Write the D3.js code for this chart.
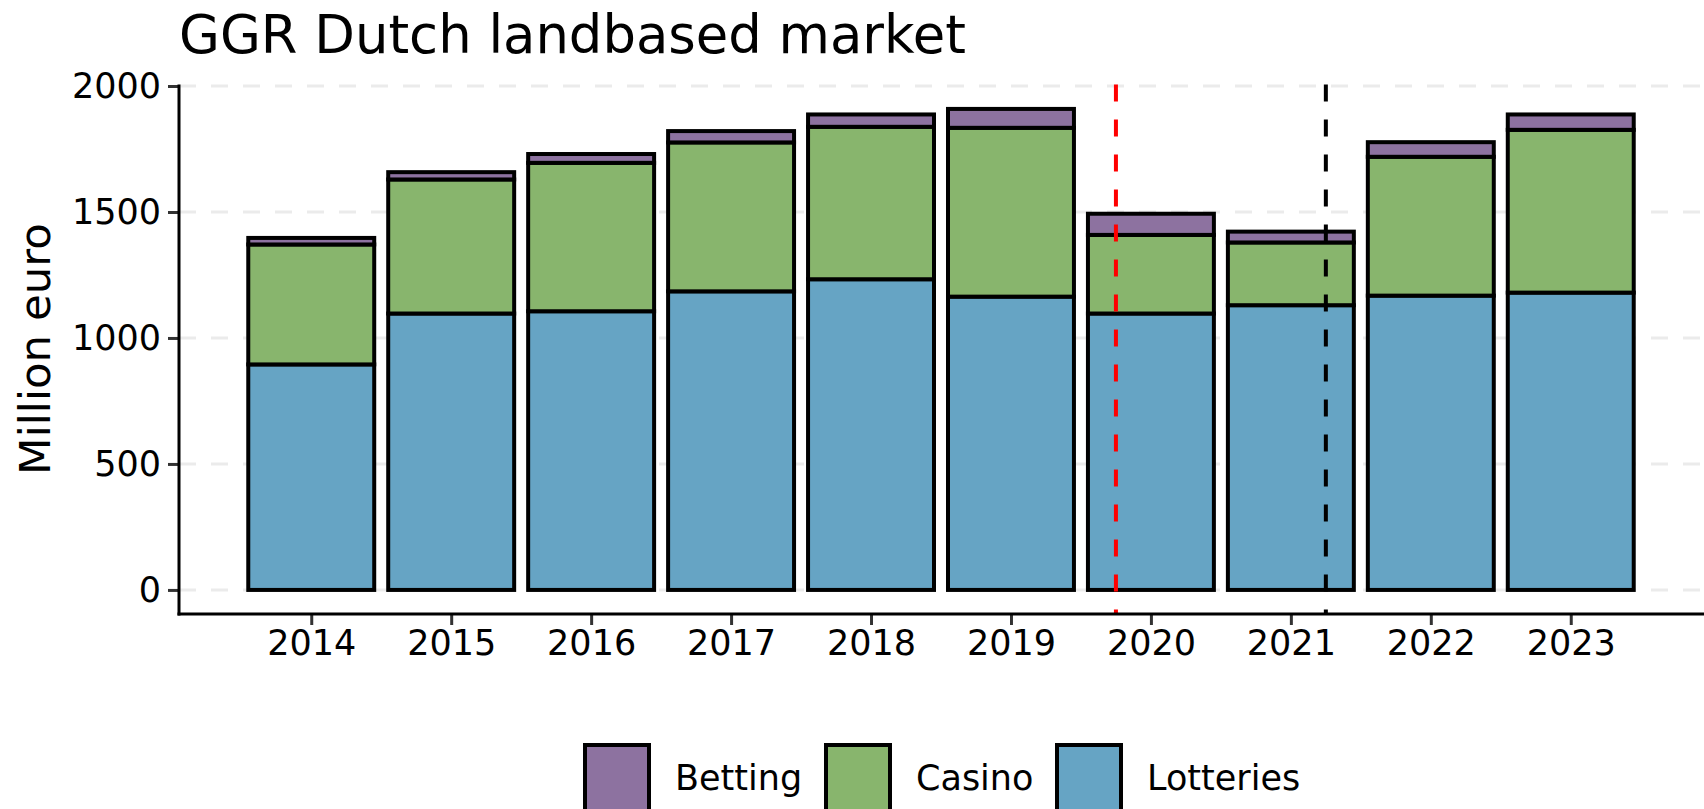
<!DOCTYPE html>
<html>
<head>
<meta charset="utf-8">
<script src="https://cdn.jsdelivr.net/npm/d3@7"></script>
<style>
  body { margin: 0; background: #fff; }
  svg { display: block; font-family: "DejaVu Sans", sans-serif; }
</style>
</head>
<body>
<svg width="1704" height="809"></svg>
<script>
// data (million euro)
var years = [2014, 2015, 2016, 2017, 2018, 2019, 2020, 2021, 2022, 2023];
var lotteries = [895, 1097, 1106, 1185, 1233, 1164, 1097, 1130, 1168, 1180];
var casino = [476, 532, 589, 591, 605, 670, 312, 249, 551, 646];
var betting = [26, 29, 35, 45, 49, 75, 84, 43, 58, 61];
var categories = ["Lotteries", "Casino", "Betting"];
var legendOrder = ["Betting", "Casino", "Lotteries"];
var yTicks = [0, 500, 1000, 1500, 2000];
var markers = [{x: 2019.75, color: "#ff0000"}, {x: 2021.25, color: "#000000"}];

var colors = {Betting: "#8d72a0", Casino: "#88b56d", Lotteries: "#66a4c4"};

var svg = d3.select("svg");

//begin: layout conf.
var panel = {left: 179, right: 1703, top: 84.6, bottom: 614},
    barWidth = 0.9,
    tickFont = 35;
//end: layout conf.

var table = years.map(function(y, i) {
  return {year: y, Lotteries: lotteries[i], Casino: casino[i], Betting: betting[i]};
});
var series = d3.stack().keys(categories)(table);

var x = d3.scaleLinear().domain([2013.055, 2023.945]).range([panel.left, panel.right]);
var y = d3.scaleLinear().domain([-95.5, 2005.5]).range([panel.bottom, panel.top]);

// gridlines
svg.append("g").selectAll("line")
  .data(yTicks).enter().append("line")
    .attr("x1", panel.left).attr("x2", panel.right)
    .attr("y1", function(d){ return y(d); }).attr("y2", function(d){ return y(d); })
    .attr("stroke", "#ebebeb").attr("stroke-width", 3)
    .attr("stroke-dasharray", "17,15");

// bars
svg.append("g").selectAll("g")
  .data(series).enter().append("g")
    .attr("fill", function(s){ return colors[s.key]; })
  .selectAll("rect")
  .data(function(s){ return s; }).enter().append("rect")
    .attr("x", function(d){ return x(d.data.year - barWidth/2); })
    .attr("width", function(d){ return x(d.data.year + barWidth/2) - x(d.data.year - barWidth/2); })
    .attr("y", function(d){ return y(d[1]); })
    .attr("height", function(d){ return y(d[0]) - y(d[1]); })
    .attr("stroke", "#000").attr("stroke-width", 4);

// vertical dashed markers
svg.append("g").selectAll("line")
  .data(markers).enter().append("line")
    .attr("x1", function(d){ return x(d.x); }).attr("x2", function(d){ return x(d.x); })
    .attr("y1", panel.top).attr("y2", panel.bottom)
    .attr("stroke", function(d){ return d.color; })
    .attr("stroke-width", 4)
    .attr("stroke-dasharray", "17,18");

// axes
var yAxis = svg.append("g")
  .attr("transform", "translate(" + panel.left + ",0)")
  .call(d3.axisLeft(y).tickValues(yTicks).tickSize(11).tickPadding(7).tickFormat(d3.format("d")));
yAxis.select(".domain").remove();
yAxis.selectAll(".tick line").attr("stroke", "#333").attr("stroke-width", 3);
yAxis.selectAll("text").attr("font-size", tickFont).attr("fill", "#000").attr("font-family", "DejaVu Sans");

var xAxis = svg.append("g")
  .attr("transform", "translate(0," + panel.bottom + ")")
  .call(d3.axisBottom(x).tickValues(years).tickSize(11).tickPadding(5).tickFormat(d3.format("d")));
xAxis.select(".domain").remove();
xAxis.selectAll(".tick line").attr("stroke", "#333").attr("stroke-width", 3);
xAxis.selectAll("text").attr("font-size", tickFont).attr("fill", "#000").attr("font-family", "DejaVu Sans");

svg.append("line")
  .attr("x1", panel.left).attr("x2", panel.left)
  .attr("y1", panel.top).attr("y2", panel.bottom + 1.5)
  .attr("stroke", "#000").attr("stroke-width", 3);
svg.append("line")
  .attr("x1", panel.left - 1.5).attr("x2", panel.right + 1)
  .attr("y1", panel.bottom).attr("y2", panel.bottom)
  .attr("stroke", "#000").attr("stroke-width", 3);

// titles
svg.append("text")
  .attr("x", 179).attr("y", 53)
  .attr("font-size", 52.8)
  .text("GGR Dutch landbased market");

svg.append("text")
  .attr("transform", "translate(" + [50, 349] + ") rotate(-90)")
  .attr("text-anchor", "middle")
  .attr("font-size", 43.5)
  .text("Million euro");

// legend
var legendX = [585, 826, 1057];
var legend = svg.append("g").selectAll("g")
  .data(legendOrder).enter().append("g")
    .attr("transform", function(d, i){ return "translate(" + [legendX[i], 745] + ")"; });
legend.append("rect")
  .attr("width", 64).attr("height", 66)
  .attr("fill", function(d){ return colors[d]; })
  .attr("stroke", "#000").attr("stroke-width", 4);
legend.append("text")
  .attr("x", 90).attr("y", 45)
  .attr("font-size", tickFont)
  .text(function(d){ return d; });
</script>
</body>
</html>
